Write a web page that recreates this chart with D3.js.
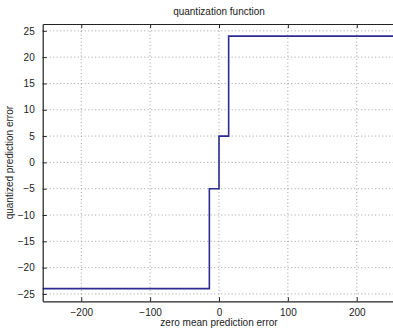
<!DOCTYPE html>
<html><head><meta charset="utf-8">
<script src="https://cdn.jsdelivr.net/npm/d3@7"></script>
<style>body{margin:0;background:#fff}svg{display:block}text{font-family:"Liberation Sans",Arial,sans-serif}</style>
</head><body>
<script>
const stepX = [-256, -14, -14, 0, 0, 14, 14, 256];
const stepY = [-24, -24, -5, -5, 5, 5, 24, 24];
const xTicks = [-200, -100, 0, 100, 200];
const yTicks = [-25, -20, -15, -10, -5, 0, 5, 10, 15, 20, 25];
const xDomain = [-256, 256];
const yDomain = [-26.4, 26.3];

const W = 393, H = 329;
const m = {left: 42.7, top: 24, right: 395.3, bottom: 301.3};
const svg = d3.select("body").append("svg").attr("width", W).attr("height", H);
const x = d3.scaleLinear().domain(xDomain).range([m.left, m.right]);
const y = d3.scaleLinear().domain(yDomain).range([m.bottom, m.top]);
const fmt = d => d < 0 ? "\u2212" + Math.abs(d) : String(d);

// grid
const g = svg.append("g");
g.selectAll(".gx").data(xTicks).join("line")
  .attr("x1", d => x(d)).attr("x2", d => x(d)).attr("y1", m.top).attr("y2", m.bottom)
  .attr("stroke", "#888").attr("stroke-width", 0.8).attr("stroke-dasharray", "1,2.5");
g.selectAll(".gy").data(yTicks).join("line")
  .attr("y1", d => y(d)).attr("y2", d => y(d)).attr("x1", m.left).attr("x2", m.right)
  .attr("stroke", "#888").attr("stroke-width", 0.8).attr("stroke-dasharray", "1,2.5");

// data line
const pts = stepX.map((v, i) => [v, stepY[i]]);
svg.append("path").datum(pts)
  .attr("d", d3.line().x(d => x(d[0])).y(d => y(d[1])))
  .attr("fill", "none").attr("stroke", "#2b2b92").attr("stroke-width", 1.6);

// axes
const axBottom = d3.axisBottom(x).tickValues(xTicks).tickFormat(fmt).tickSizeInner(-4).tickSizeOuter(0).tickPadding(8);
const axTop = d3.axisTop(x).tickValues(xTicks).tickFormat("").tickSizeInner(-4).tickSizeOuter(0);
const axLeft = d3.axisLeft(y).tickValues(yTicks).tickFormat(fmt).tickSizeInner(-4).tickSizeOuter(0).tickPadding(8);
const style = s => {
  s.select(".domain").attr("stroke", "#222").attr("stroke-width", 1.2);
  s.selectAll(".tick line").attr("stroke", "#222");
  s.selectAll(".tick text").attr("font-size", 10).attr("fill", "#222");
};
svg.append("g").attr("transform", `translate(0,${m.bottom})`).call(axBottom).call(style);
svg.append("g").attr("transform", `translate(0,${m.top})`).call(axTop).call(style);
svg.append("g").attr("transform", `translate(${m.left},0)`).call(axLeft).call(style);

// texts
svg.append("text").attr("x", 219).attr("y", 15).attr("text-anchor", "middle")
  .attr("font-size", 10).attr("fill", "#222").text("quantization function");
svg.append("text").attr("x", 219).attr("y", 326).attr("text-anchor", "middle")
  .attr("font-size", 10).attr("fill", "#222").text("zero mean prediction error");
svg.append("text").attr("transform", `translate(13,${(m.top + m.bottom) / 2}) rotate(-90)`)
  .attr("text-anchor", "middle").attr("font-size", 10).attr("fill", "#222").text("quantized prediction error");
</script>
</body></html>
